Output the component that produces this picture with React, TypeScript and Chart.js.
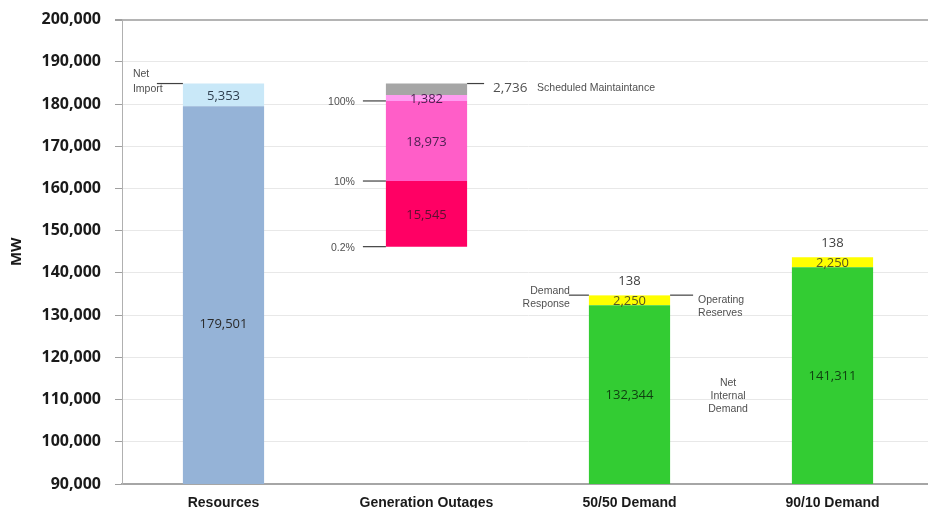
import { useEffect, useRef } from 'react';
import { Chart, registerables } from 'chart.js';

Chart.register(...registerables);

// ---- data ----
const categories = ['Resources', 'Generation Outages', '50/50 Demand', '90/10 Demand'];
const yMin = 90000;
const yMax = 200000;
const yStep = 10000;

const internalResources = 179501;
const netImport = 5353;

const scheduledMaintenance = 2736;
const outage100 = 1382;
const outage10 = 18973;
const outage02 = 15545;
const outagePercentLabels = ['100%', '10%', '0.2%'];

const netInternalDemand = [132344, 141311];
const operatingReserves = [2250, 2250];
const demandResponse = [138, 138];

// ---- derived floating ranges ----
const resourcesTop = internalResources + netImport;
const maintBottom = resourcesTop - scheduledMaintenance;
const o100Bottom = maintBottom - outage100;
const o10Bottom = o100Bottom - outage10;
const o02Bottom = o10Bottom - outage02;

const demandRanges = netInternalDemand.map((n, i) => ({
  nid: [0, n],
  or: [n, n + operatingReserves[i]],
  dr: [n + operatingReserves[i], n + operatingReserves[i] + demandResponse[i]],
}));

const fmt = (v: number) => Math.round(v).toLocaleString('en-US');
const SANS = '"Open Sans", "Noto Sans", sans-serif';
const ARIAL = '"Liberation Sans", Arial, sans-serif';

const labelsPlugin = {
  id: 'barLabels',
  afterDatasetsDraw(chart: any) {
    const ctx = chart.ctx;
    const y = chart.scales.y;
    ctx.save();
    ctx.textAlign = 'center';
    ctx.textBaseline = 'middle';
    chart.data.datasets.forEach((ds: any, di: number) => {
      const meta = chart.getDatasetMeta(di);
      meta.data.forEach((el: any, i: number) => {
        const raw = ds.data[i];
        if (!raw) return;
        const val = raw[1] - raw[0];
        if (ds.labelMode === 'inner') {
          const lo = Math.max(raw[0], y.min);
          const v = lo + (raw[1] - lo) * (ds.labelFrac ?? 0.5);
          ctx.font = `13px ${SANS}`;
          ctx.fillStyle = ds.labelColor || '#333';
          ctx.fillText(fmt(val), el.x, y.getPixelForValue(v) + 1);
        } else if (ds.labelMode === 'above') {
          ctx.font = `13px ${SANS}`;
          ctx.fillStyle = '#404040';
          ctx.fillText(fmt(val), el.x, el.y - 14);
        }
      });
    });
    ctx.restore();
  },
};

const annotationsPlugin = {
  id: 'annotations',
  afterDatasetsDraw(chart: any) {
    const ctx = chart.ctx;
    const y = chart.scales.y;
    const el = (di: number, ci: number) => chart.getDatasetMeta(di).data[ci] as any;
    const line = (x1: number, x2: number, yy: number) => {
      ctx.beginPath();
      ctx.moveTo(x1, yy);
      ctx.lineTo(x2, yy);
      ctx.stroke();
    };
    ctx.save();
    ctx.strokeStyle = '#404040';
    ctx.lineWidth = 1.2;
    ctx.fillStyle = '#505050';
    ctx.textBaseline = 'middle';
    const small = `10.5px ${ARIAL}`;

    // Net Import
    const r = el(1, 0);
    const rL = r.x - r.width / 2;
    const rTop = y.getPixelForValue(resourcesTop);
    line(rL - 26, rL, rTop);
    ctx.font = small;
    ctx.textAlign = 'left';
    ctx.fillText('Net', rL - 50, rTop - 9.5);
    ctx.fillText('Import', rL - 50, rTop + 5.5);

    // Outage percentiles
    const g = el(2, 1);
    const gL = g.x - g.width / 2;
    const gR = g.x + g.width / 2;
    [o100Bottom, o10Bottom, o02Bottom].forEach((v, i) => {
      const yy = y.getPixelForValue(v);
      line(gL - 23, gL, yy);
      ctx.textAlign = 'right';
      ctx.font = small;
      ctx.fillText(outagePercentLabels[i], gL - 31, yy + 1);
    });

    // Scheduled maintenance
    const gTop = y.getPixelForValue(resourcesTop);
    line(gR, gR + 17, gTop);
    ctx.textAlign = 'left';
    ctx.font = `13.5px ${SANS}`;
    ctx.fillStyle = '#505050';
    ctx.fillText(fmt(scheduledMaintenance), gR + 26, gTop + 5);
    ctx.font = small;
    ctx.fillText('Scheduled Maintaintance', gR + 70, gTop + 5);

    // Demand response / operating reserves (50/50)
    const d = el(8, 2);
    const dL = d.x - d.width / 2;
    const dR = d.x + d.width / 2;
    const dTop = d.y;
    line(dL - 20, dL, dTop);
    ctx.font = small;
    ctx.textAlign = 'right';
    ctx.fillText('Demand', dL - 19, dTop - 4);
    ctx.fillText('Response', dL - 19, dTop + 9);
    line(dR, dR + 23, dTop);
    ctx.textAlign = 'left';
    ctx.fillText('Operating', dR + 28, dTop + 5);
    ctx.fillText('Reserves', dR + 28, dTop + 17.5);

    // Net internal demand
    const nidMid = y.getPixelForValue((yMin + netInternalDemand[0]) / 2);
    ctx.textAlign = 'center';
    ctx.fillText('Net', dR + 58, nidMid - 12);
    ctx.fillText('Internal', dR + 58, nidMid + 1);
    ctx.fillText('Demand', dR + 58, nidMid + 14);

    ctx.restore();
  },
};

export default function App() {
  const ref = useRef<HTMLCanvasElement>(null);

  useEffect(() => {
    if (!ref.current) return;
    const pinkText = '#4a1f4f';
    const chart = new Chart(ref.current, {
      type: 'bar',
      data: {
        labels: categories,
        datasets: [
          {
            label: 'Internal Resources',
            data: [[0, internalResources], null, null, null],
            backgroundColor: '#95B3D7',
            labelMode: 'inner',
            labelFrac: 0.426,
            labelColor: '#2a2a2a',
          } as any,
          {
            label: 'Net Import',
            data: [[internalResources, resourcesTop], null, null, null],
            backgroundColor: '#C9E8F8',
            labelMode: 'inner',
            labelColor: '#2f3f4f',
          },
          {
            label: 'Scheduled Maintenance',
            data: [null, [maintBottom, resourcesTop], null, null],
            backgroundColor: '#A6A6A6',
          },
          {
            label: '100%',
            data: [null, [o100Bottom, maintBottom], null, null],
            backgroundColor: '#FF9BF0',
            labelMode: 'inner',
            labelColor: pinkText,
          },
          {
            label: '10%',
            data: [null, [o10Bottom, o100Bottom], null, null],
            backgroundColor: '#FF5EC8',
            labelMode: 'inner',
            labelColor: pinkText,
          },
          {
            label: '0.2%',
            data: [null, [o02Bottom, o10Bottom], null, null],
            backgroundColor: '#FF0064',
            labelMode: 'inner',
            labelColor: '#5a1030',
          },
          {
            label: 'Net Internal Demand',
            data: [null, null, demandRanges[0].nid, demandRanges[1].nid],
            backgroundColor: '#33CC33',
            labelMode: 'inner',
            labelColor: '#0f3f10',
          },
          {
            label: 'Operating Reserves',
            data: [null, null, demandRanges[0].or, demandRanges[1].or],
            backgroundColor: '#FFFF00',
            labelMode: 'inner',
            labelColor: '#555522',
          },
          {
            label: 'Demand Response',
            data: [null, null, demandRanges[0].dr, demandRanges[1].dr],
            backgroundColor: '#FFFF00',
            labelMode: 'above',
          },
        ] as any,
      },
      options: {
        responsive: false,
        animation: false,
        events: [],
        layout: { padding: { top: 15, right: 6, left: 0, bottom: 0 } },
        datasets: {
          bar: { grouped: false, categoryPercentage: 1, barPercentage: 0.4, borderSkipped: false },
        } as any,
        plugins: {
          legend: { display: false },
          tooltip: { enabled: false },
          title: { display: false },
        },
        scales: {
          x: {
            grid: { display: false, drawTicks: false },
            border: { display: true, color: '#a6a6a6', width: 2 },
            ticks: {
              padding: 11,
              color: '#1a1a1a',
              font: { family: ARIAL, size: 14, weight: 'bold' },
            },
            afterFit(scale: any) {
              scale.height = 24;
            },
          },
          y: {
            min: yMin,
            max: yMax,
            grid: {
              color: (c: any) => (c.tick && c.tick.value === yMax ? '#b4b4b4' : '#e8e8e8'),
              tickColor: '#a0a0a0',
              tickLength: 7,
              lineWidth: (c: any) => (c.tick && c.tick.value === yMax ? 2 : 1),
            },
            border: { display: true, color: '#b0b0b0', width: 1 },
            ticks: {
              stepSize: yStep,
              padding: 14,
              color: '#1a1a1a',
              font: { family: SANS, size: 16, weight: 'bold' },
              callback: (v: any) => Number(v).toLocaleString('en-US'),
            },
            title: {
              display: true,
              text: 'MW',
              color: '#1a1a1a',
              font: { family: SANS, size: 15, weight: 'bold' },
              padding: { top: 8, bottom: 0 },
            },
            afterFit(scale: any) {
              scale.width = 122;
            },
          },
        },
      } as any,
      plugins: [labelsPlugin, annotationsPlugin],
    });
    return () => chart.destroy();
  }, []);

  return (
    <div
      style={{
        position: 'fixed',
        left: 0,
        top: 0,
        width: 928,
        height: 508,
        overflow: 'hidden',
        background: '#fff',
      }}
    >
      <canvas
        ref={ref}
        width={940}
        height={512}
        style={{ display: 'block', position: 'absolute', left: 0, top: -4 }}
      />
    </div>
  );
}
